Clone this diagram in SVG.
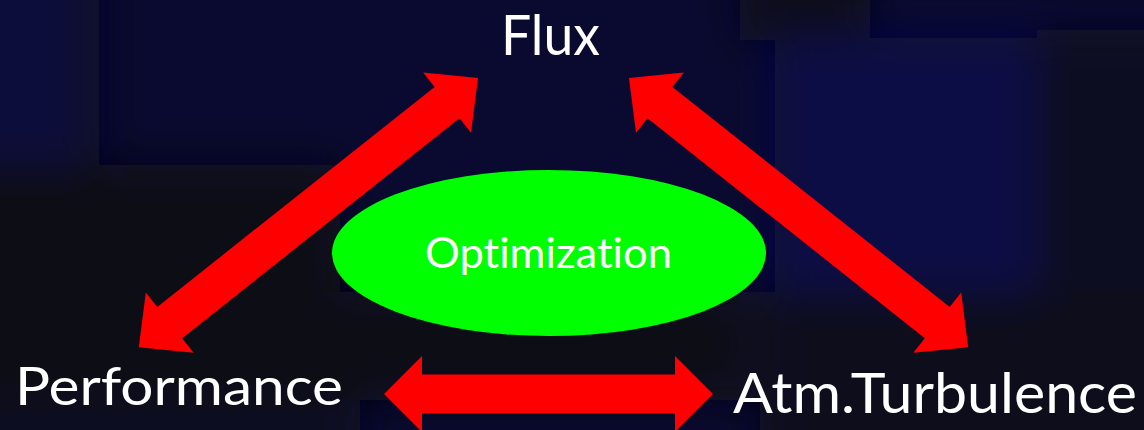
<svg xmlns="http://www.w3.org/2000/svg" xmlns:xlink="http://www.w3.org/1999/xlink" width="1144" height="430" viewBox="0 0 1144 430">
  <style>
    .label { font-family: "Lato", "Open Sans", "Liberation Sans", sans-serif; fill: #ffffff; font-variant-ligatures: none; }
    .arrow { fill: #ff0000; }
    .hub { fill: #00ff00; }
  </style>
  <defs>
    <filter id="soft" filterUnits="userSpaceOnUse" x="-100" y="-100" width="1344" height="630">
      <feGaussianBlur stdDeviation="20"/>
    </filter>
    <!-- double-headed block arrow laid along the x axis, 433 long -->
    <polygon id="diag" points="0,0 39.5,-38.5 39.5,-20 393.5,-20 393.5,-38.5 433,0 393.5,38.5 393.5,20 39.5,20 39.5,38.5"/>
  </defs>

  <!-- night backdrop -->
  <rect width="1144" height="430" fill="#0a0a30"/>
  <g id="backdrop" filter="url(#soft)">
    <rect x="-60" y="-60" width="140" height="230" fill="#0b0b3a"/>
    <rect x="84" y="-60" width="18" height="230" fill="#0b0b24"/>
    <rect x="-60" y="165" width="400" height="235" fill="#0b0b15"/>
    <rect x="-60" y="398" width="420" height="100" fill="#0b0b22"/>
    <rect x="330" y="292" width="420" height="108" fill="#0b0b17"/>
    <rect x="740" y="-60" width="130" height="100" fill="#0c0c1a"/>
    <rect x="775" y="38" width="262" height="262" fill="#0b0b44"/>
    <rect x="1037" y="30" width="160" height="270" fill="#0c0c20"/>
    <rect x="760" y="292" width="440" height="200" fill="#0b0b1e"/>
  </g>

  <g id="connectors" class="arrow">
    <use xlink:href="#diag" transform="translate(629 78) rotate(38.43)"/>
    <use xlink:href="#diag" transform="translate(478 78) rotate(141.57)"/>
    <polygon points="384,394 422,356 422,374.5 675,374.5 675,356 713,394 675,432 675,413.5 422,413.5 422,432"/>
  </g>

  <g id="optimization">
    <ellipse class="hub" cx="549" cy="253" rx="217" ry="83"/>
    <text class="label" x="425" y="268" font-size="42" textLength="247" lengthAdjust="spacingAndGlyphs">Optimization</text>
  </g>

  <g id="flux">
    <text class="label" x="501" y="55" font-size="56" textLength="99" lengthAdjust="spacingAndGlyphs">Flux</text>
  </g>

  <g id="performance">
    <text class="label" x="15" y="405" font-size="53" textLength="328" lengthAdjust="spacingAndGlyphs">Performance</text>
  </g>

  <g id="atm-turbulence">
    <text class="label" x="733" y="413" font-size="56" textLength="404" lengthAdjust="spacingAndGlyphs">Atm.Turbulence</text>
  </g>
</svg>
